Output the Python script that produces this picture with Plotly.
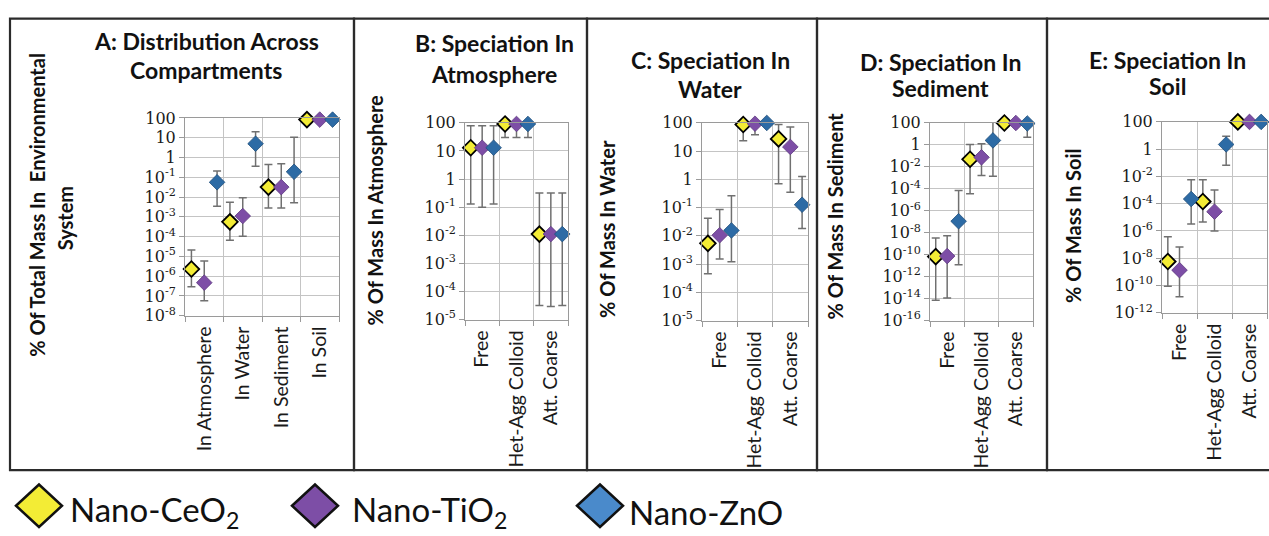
import plotly.graph_objects as go

W, H = 1269, 536

# ---------------- data ----------------
series_names = ["Nano-CeO<sub>2</sub>", "Nano-TiO<sub>2</sub>", "Nano-ZnO"]
marker_colors = ["#F3EC35", "#7D4EA6", "#2D6BA5"]
marker_edge = ["#000000", "#5E3A80", "#1F4E7A"]
legend_colors = ["#F3EC35", "#7D4EA6", "#4A8ACB"]

# Panel A: distribution across compartments (% of total mass)
cats_A = ["In Atmosphere", "In Water", "In Sediment", "In Soil"]
A_ceo2 = [2.3e-6, 5.6e-4, 3.2e-2, 83]
A_ceo2_lo = [2.9e-7, 6.6e-5, 2.8e-3, 83]
A_ceo2_hi = [2.1e-5, 5.5e-3, 0.44, 83]
A_tio2 = [4.7e-7, 1.1e-3, 3.2e-2, 83]
A_tio2_lo = [5.8e-8, 1.05e-4, 2.8e-3, 83]
A_tio2_hi = [5.8e-6, 9.3e-3, 0.49, 83]
A_zno = [5.6e-2, 5.0, 0.19, 83]
A_zno_lo = [3.4e-3, 0.36, 5.1e-3, 83]
A_zno_hi = [0.21, 20, 10.5, 83]
A_tickvals = [100, 10, 1, 1e-1, 1e-2, 1e-3, 1e-4, 1e-5, 1e-6, 1e-7, 1e-8]
A_ticktext = ["100", "10", "1", "10<sup>-1</sup>", "10<sup>-2</sup>", "10<sup>-3</sup>",
              "10<sup>-4</sup>", "10<sup>-5</sup>", "10<sup>-6</sup>", "10<sup>-7</sup>",
              "10<sup>-8</sup>"]

# Speciation categories (panels B-E)
cats_spec = ["Free", "Het-Agg Colloid", "Att. Coarse"]

# Panel B: atmosphere
B_ceo2 = [13, 91, 0.011]
B_ceo2_lo = [0.13, 30, 3.2e-5]
B_ceo2_hi = [78, 100, 0.32]
B_tio2 = [13, 91, 0.011]
B_tio2_lo = [0.10, 30, 2.9e-5]
B_tio2_hi = [78, 100, 0.32]
B_zno = [13, 91, 0.011]
B_zno_lo = [0.13, 30, 3.2e-5]
B_zno_hi = [78, 100, 0.32]
B_tickvals = [100, 10, 1, 1e-1, 1e-2, 1e-3, 1e-4, 1e-5]
B_ticktext = ["100", "10", "1", "10<sup>-1</sup>", "10<sup>-2</sup>", "10<sup>-3</sup>",
              "10<sup>-4</sup>", "10<sup>-5</sup>"]

# Panel C: water
C_ceo2 = [5.4e-3, 87, 27]
C_ceo2_lo = [4.5e-4, 23, 0.69]
C_ceo2_hi = [0.042, 100, 87]
C_tio2 = [0.0105, 93, 14]
C_tio2_lo = [1.5e-3, 38, 0.35]
C_tio2_hi = [0.085, 100, 71]
C_zno = [0.0155, 99, 0.126]
C_zno_lo = [1.2e-3, 99, 0.018]
C_zno_hi = [0.26, 99, 1.26]
C_tickvals = [100, 10, 1, 1e-1, 1e-2, 1e-3, 1e-4, 1e-5]
C_ticktext = ["100", "10", "1", "10<sup>-1</sup>", "10<sup>-2</sup>", "10<sup>-3</sup>",
              "10<sup>-4</sup>", "10<sup>-5</sup>"]

# Panel D: sediment
D_ceo2 = [6.6e-11, 0.048, 97]
D_ceo2_lo = [7e-15, 3.5e-5, 97]
D_ceo2_hi = [3.3e-9, 1.07, 97]
D_tio2 = [7.4e-11, 0.072, 96]
D_tio2_lo = [1.15e-14, 1.6e-3, 96]
D_tio2_hi = [5.2e-9, 1.23, 96]
D_zno = [1.1e-7, 2.5, 87]
D_zno_lo = [1.2e-11, 1.4e-3, 4.8]
D_zno_hi = [6.8e-5, 120, 100]
D_tickvals = [100, 1, 1e-2, 1e-4, 1e-6, 1e-8, 1e-10, 1e-12, 1e-14, 1e-16]
D_ticktext = ["100", "1", "10<sup>-2</sup>", "10<sup>-4</sup>", "10<sup>-6</sup>",
              "10<sup>-8</sup>", "10<sup>-10</sup>", "10<sup>-12</sup>", "10<sup>-14</sup>",
              "10<sup>-16</sup>"]

# Panel E: soil
E_ceo2 = [5.8e-9, 1.45e-4, 99]
E_ceo2_lo = [8.9e-11, 4.6e-6, 99]
E_ceo2_hi = [3.8e-7, 5.8e-3, 99]
E_tio2 = [1.35e-9, 2.6e-5, 99]
E_tio2_lo = [1.5e-11, 1.0e-6, 99]
E_tio2_hi = [6.6e-8, 1.0e-3, 99]
E_zno = [2.2e-4, 2.2, 99]
E_zno_lo = [3.3e-6, 0.066, 99]
E_zno_hi = [5.8e-3, 8.7, 99]
E_tickvals = [100, 1, 1e-2, 1e-4, 1e-6, 1e-8, 1e-10, 1e-12]
E_ticktext = ["100", "1", "10<sup>-2</sup>", "10<sup>-4</sup>", "10<sup>-6</sup>",
              "10<sup>-8</sup>", "10<sup>-10</sup>", "10<sup>-12</sup>"]

titles = [["A: Distribution Across", "Compartments"],
          ["B: Speciation In", "Atmosphere"],
          ["C: Speciation In", "Water"],
          ["D: Speciation In", "Sediment"],
          ["E: Speciation In", "Soil"]]
ytitles = [["% Of Total Mass In  Environmental", "System"],
           ["% Of Mass In Atmosphere"],
           ["% Of Mass In Water"],
           ["% Of Mass In Sediment"],
           ["% Of Mass In Soil"]]

panels = [
    dict(cats=cats_A, vals=[A_ceo2, A_tio2, A_zno], lo=[A_ceo2_lo, A_tio2_lo, A_zno_lo],
         hi=[A_ceo2_hi, A_tio2_hi, A_zno_hi], tv=A_tickvals, tt=A_ticktext),
    dict(cats=cats_spec, vals=[B_ceo2, B_tio2, B_zno], lo=[B_ceo2_lo, B_tio2_lo, B_zno_lo],
         hi=[B_ceo2_hi, B_tio2_hi, B_zno_hi], tv=B_tickvals, tt=B_ticktext),
    dict(cats=cats_spec, vals=[C_ceo2, C_tio2, C_zno], lo=[C_ceo2_lo, C_tio2_lo, C_zno_lo],
         hi=[C_ceo2_hi, C_tio2_hi, C_zno_hi], tv=C_tickvals, tt=C_ticktext),
    dict(cats=cats_spec, vals=[D_ceo2, D_tio2, D_zno], lo=[D_ceo2_lo, D_tio2_lo, D_zno_lo],
         hi=[D_ceo2_hi, D_tio2_hi, D_zno_hi], tv=D_tickvals, tt=D_ticktext),
    dict(cats=cats_spec, vals=[E_ceo2, E_tio2, E_zno], lo=[E_ceo2_lo, E_tio2_lo, E_zno_lo],
         hi=[E_ceo2_hi, E_tio2_hi, E_zno_hi], tv=E_tickvals, tt=E_ticktext),
]

# ---------------- layout geometry (pixels) ----------------
plot_boxes = [  # x0, x1, ytop, ybottom, log range
    (185, 339, 113, 318, [-8, 2]),
    (465, 568, 118, 322, [-5, 2]),
    (702, 808, 118, 323, [-5, 2]),
    (930, 1033, 118, 323, [-16, 2]),
    (1162, 1267, 117, 315, [-12, 2]),
]
frames = [(10, 354), (354, 587), (587, 817), (817, 1047), (1047, 1300)]
frame_top, frame_bottom = 10, 478
title_pos = [(206, 33, 63), (494, 35, 67), (710, 53, 83), (940, 55, 82), (1167, 53, 80)]
ytitle_pos = [[(37, 203), (65, 217)], [(375, 209)], [(607, 228)], [(835, 214)], [(1073, 225)]]

def px(x):
    return x / W

def py(y):
    return 1 - y / H

fig = go.Figure()
annotations = []
shapes = []
layout_axes = {}

for p, panel in enumerate(panels):
    ax = "" if p == 0 else str(p + 1)
    ncat = len(panel["cats"])
    for s in range(3):
        xs = [c * 3 + s + 0.5 for c in range(ncat)]
        v = panel["vals"][s]
        up = [h - val for h, val in zip(panel["hi"][s], v)]
        dn = [val - l for l, val in zip(panel["lo"][s], v)]
        fig.add_trace(go.Scatter(
            x=xs, y=v, mode="markers", name=series_names[s], showlegend=False,
            xaxis="x" + ax, yaxis="y" + ax, cliponaxis=False,
            marker=dict(symbol="diamond", size=12, color=marker_colors[s],
                        line=dict(color=marker_edge[s], width=1.8 if s == 0 else 0.8)),
            error_y=dict(type="data", symmetric=False, array=up, arrayminus=dn,
                         color="#707070", thickness=1.5, width=4),
        ))
    x0, x1, yt, yb, rng = plot_boxes[p]
    layout_axes["xaxis" + ax] = dict(
        domain=[px(x0), px(x1)], range=[0, 3 * ncat], anchor="y" + ax,
        tickmode="array", tickvals=[c * 3 + 1.5 for c in range(ncat)], ticktext=panel["cats"],
        tickangle=-90, ticks="", showgrid=False, ticklabelstandoff=2,
        tickfont=dict(family="Lato", size=19.5, color="#1a1a1a"),
        showline=True, linecolor="#9a9a9a", linewidth=1, mirror=True, zeroline=False,
        minor=dict(tick0=0, dtick=3, showgrid=True, gridcolor="#c4c4c4", gridwidth=1,
                   ticks="outside", ticklen=5, tickcolor="#9a9a9a"),
        fixedrange=True,
    )
    layout_axes["yaxis" + ax] = dict(
        domain=[py(yb), py(yt)], type="log", range=rng, anchor="x" + ax,
        tickmode="array", tickvals=panel["tv"], ticktext=panel["tt"],
        ticks="outside", ticklen=5, tickcolor="#9a9a9a",
        tickfont=dict(family="DejaVu Serif", size=16, color="#1a1a1a"),
        showgrid=True, gridcolor="#c4c4c4", gridwidth=1,
        showline=True, linecolor="#9a9a9a", linewidth=1, mirror=True, zeroline=False,
        fixedrange=True,
    )
    # panel titles
    tx, ty1, ty2 = title_pos[p]
    for line, ty in zip(titles[p], (ty1, ty2)):
        annotations.append(dict(text="<b>" + line + "</b>", x=px(tx), y=py(ty),
                                xref="paper", yref="paper", showarrow=False,
                                xanchor="center", yanchor="middle",
                                font=dict(family="Lato", size=23, color="#111")))
    # y-axis titles
    for line, (yx, yy) in zip(ytitles[p], ytitle_pos[p]):
        annotations.append(dict(text="<b>" + line + "</b>", x=px(yx), y=py(yy),
                                xref="paper", yref="paper", showarrow=False,
                                textangle=-90, xanchor="center", yanchor="middle",
                                font=dict(family="Lato", size=20, color="#111")))
    # frame
    fx0, fx1 = frames[p]
    shapes.append(dict(type="rect", xref="paper", yref="paper",
                       x0=px(fx0), x1=px(fx1), y0=py(frame_bottom), y1=py(frame_top),
                       line=dict(color="#2b2b2b", width=2.2), fillcolor="rgba(0,0,0,0)"))

# ---------------- legend (drawn manually to get large symbols) ----------------
leg_sym_x = [39, 315, 600]
leg_txt_x = [68, 350, 627]
leg_y = 515
hw, hh = 23, 22
for s in range(3):
    cx = leg_sym_x[s]
    path = (f"M {px(cx - hw)},{py(leg_y)} L {px(cx)},{py(leg_y - hh)} "
            f"L {px(cx + hw)},{py(leg_y)} L {px(cx)},{py(leg_y + hh)} Z")
    shapes.append(dict(type="path", xref="paper", yref="paper", path=path,
                       fillcolor=legend_colors[s], line=dict(color="#111", width=2.5)))
    annotations.append(dict(text=series_names[s], x=px(leg_txt_x[s]), y=py(leg_y + 6),
                            xref="paper", yref="paper", showarrow=False,
                            xanchor="left", yanchor="middle",
                            font=dict(family="Lato", size=33, color="#111")))

fig.update_layout(
    width=W, height=H, margin=dict(l=0, r=0, t=0, b=0),
    paper_bgcolor="white", plot_bgcolor="white",
    showlegend=False, annotations=annotations, shapes=shapes,
    **layout_axes,
)

fig.write_html(
    "out.html",
    config={"displayModeBar": False},
    post_script="document.body.style.margin='0';document.body.style.overflow='hidden';",
)
